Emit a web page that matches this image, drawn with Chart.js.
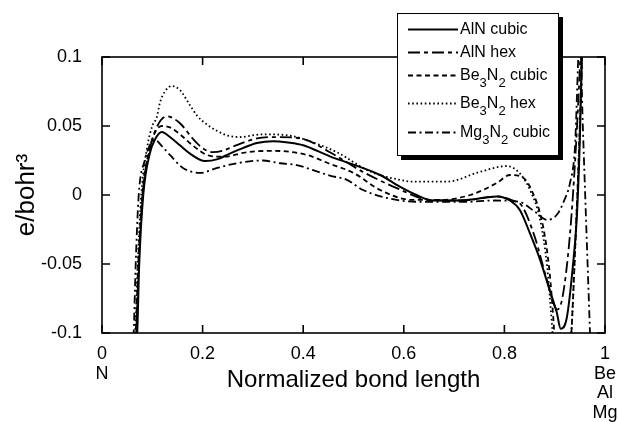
<!DOCTYPE html>
<html>
<head>
<meta charset="utf-8">
<script src="https://cdn.jsdelivr.net/npm/chart.js@4.4.1/dist/chart.umd.min.js"></script>
<style>
html,body{margin:0;padding:0;background:#fff;}
#wrap{position:relative;width:618px;height:422px;}
#legend{position:absolute;left:397px;top:13px;width:162px;height:143px;background:#fff;border:1.5px solid #000;box-shadow:4px 4px 0 #000;box-sizing:border-box;font-family:"Liberation Sans",Arial,Helvetica,sans-serif;font-size:16px;color:#000;}
#legend .row{position:absolute;left:0;height:20px;width:160px;}
#legend svg{position:absolute;left:10px;top:0;}
#legend .txt{position:absolute;left:62px;top:0;line-height:20px;white-space:nowrap;}
#legend .s{font-size:13px;position:relative;top:7px;}
</style>
</head>
<body>
<div id="wrap">
<canvas id="c" width="618" height="422"></canvas>
<div id="legend"></div>
</div>
<script>
// ---- data ----
const seriesNames = ["AlN cubic", "AlN hex", "Be3N2 cubic", "Be3N2 hex", "Mg3N2 cubic"];

const alnCubicX = [0.060,0.070,0.074,0.082,0.095,0.105,0.119,0.135,0.155,0.175,0.205,0.230,0.254,0.280,0.308,0.340,0.370,0.400,0.453,0.500,0.553,0.592,0.625,0.658,0.690,0.725,0.760,0.785,0.811,0.831,0.851,0.871,0.890,0.904,0.912,0.924,0.936,0.944,0.950,0.954,0.958];
const alnCubicY = [-0.140,-0.100,-0.050,0.000,0.030,0.040,0.0457,0.042,0.036,0.030,0.0246,0.026,0.030,0.034,0.0377,0.039,0.038,0.036,0.028,0.022,0.0145,0.006,0.000,-0.004,-0.004,-0.0036,-0.002,-0.001,-0.004,-0.011,-0.028,-0.047,-0.069,-0.085,-0.097,-0.089,-0.052,-0.016,0.040,0.100,0.140];

const alnHexX = [0.058,0.068,0.073,0.081,0.095,0.110,0.129,0.155,0.180,0.200,0.220,0.240,0.260,0.308,0.348,0.400,0.453,0.519,0.586,0.652,0.718,0.785,0.817,0.835,0.860,0.885,0.905,0.915,0.930,0.943,0.951,0.956];
const alnHexY = [-0.140,-0.100,-0.050,0.000,0.033,0.050,0.057,0.052,0.041,0.034,0.031,0.032,0.035,0.041,0.042,0.0406,0.031,0.0167,0.005,-0.0036,-0.004,-0.001,-0.004,-0.008,-0.030,-0.062,-0.083,-0.075,-0.030,0.040,0.100,0.140];

const be3n2CubicX = [0.058,0.067,0.072,0.080,0.095,0.105,0.119,0.135,0.155,0.180,0.209,0.240,0.288,0.340,0.408,0.450,0.500,0.553,0.618,0.672,0.732,0.785,0.811,0.835,0.851,0.877,0.890,0.897,0.905,0.925,0.945,0.956];
const be3n2CubicY = [-0.140,-0.100,-0.050,0.000,0.034,0.045,0.050,0.049,0.044,0.036,0.029,0.0277,0.031,0.032,0.029,0.023,0.016,0.0036,-0.0036,-0.0036,0.000,0.0087,0.0145,0.013,0.0058,-0.023,-0.0565,-0.088,-0.130,-0.130,0.000,0.120];

const be3n2HexX = [0.057,0.066,0.071,0.078,0.090,0.100,0.109,0.115,0.125,0.139,0.155,0.175,0.190,0.209,0.229,0.250,0.274,0.320,0.374,0.420,0.467,0.533,0.592,0.618,0.686,0.751,0.805,0.831,0.851,0.871,0.885,0.895,0.902,0.925,0.945,0.956];
const be3n2HexY = [-0.140,-0.100,-0.050,0.000,0.035,0.050,0.0565,0.0667,0.075,0.079,0.076,0.065,0.057,0.051,0.0464,0.043,0.042,0.044,0.043,0.038,0.031,0.017,0.011,0.0097,0.0097,0.0167,0.021,0.0155,0.0036,-0.018,-0.052,-0.096,-0.130,-0.130,0.000,0.120];

const mg3n2CubicX = [0.055,0.063,0.067,0.073,0.085,0.095,0.105,0.120,0.135,0.161,0.195,0.229,0.268,0.320,0.354,0.387,0.420,0.453,0.487,0.519,0.586,0.650,0.720,0.780,0.830,0.860,0.885,0.905,0.920,0.930,0.940,0.950,0.956,0.970,0.975];
const mg3n2CubicY = [-0.140,-0.100,-0.050,0.000,0.025,0.036,0.040,0.035,0.029,0.0196,0.016,0.0196,0.023,0.025,0.023,0.0217,0.018,0.014,0.011,0.0036,-0.0036,-0.005,-0.005,-0.004,-0.005,-0.012,-0.018,-0.014,-0.003,0.008,0.033,0.115,0.049,-0.098,-0.150];

const xTickValues = [0, 0.2, 0.4, 0.6, 0.8, 1];
const xTickLabels = [["0","N"], ["0.2"], ["0.4"], ["0.6"], ["0.8"], ["1","Be","Al","Mg"]];
const yTickValues = [-0.1, -0.05, 0, 0.05, 0.1];
const yTickLabels = ["-0.1", "-0.05", "0", "0.05", "0.1"];

const xTitle = "Normalized bond length";
const yTitle = "e/bohr\u00B3";

// ---- styles ----
const dashes = [[], [12,4,4,4], [5,3.5], [1.6,2.6], [8,3.5,2,3.5]];
const widths = [2, 1.8, 1.8, 1.8, 1.8];

function pts(xs, ys){ return xs.map((x,i)=>({x:x, y:ys[i]})); }
const seriesX = [alnCubicX, alnHexX, be3n2CubicX, be3n2HexX, mg3n2CubicX];
const seriesY = [alnCubicY, alnHexY, be3n2CubicY, be3n2HexY, mg3n2CubicY];

const datasets = seriesNames.map((name,i)=>({
  label: name,
  data: pts(seriesX[i], seriesY[i]),
  borderColor: '#000',
  backgroundColor: '#000',
  borderWidth: widths[i],
  borderDash: dashes[i],
  pointRadius: 0,
  fill: false,
  cubicInterpolationMode: 'monotone'
}));

const FONT = '"Liberation Sans", Arial, Helvetica, sans-serif';

function nearestIndex(arr, v){
  let best=0, bd=Infinity;
  arr.forEach((a,i)=>{const d=Math.abs(a-v); if(d<bd){bd=d;best=i;}});
  return bd<1e-6 ? best : -1;
}

const framePlugin = {
  id: 'frame',
  afterDatasetsDraw(chart){
    const {ctx, chartArea:{left,right,top,bottom}, scales:{x,y}} = chart;
    ctx.save();
    ctx.strokeStyle = '#000';
    ctx.lineWidth = 1.6;
    ctx.strokeRect(left, top, right-left, bottom-top);
    ctx.beginPath();
    const tl = 8;
    x.ticks.forEach(t=>{
      const px = x.getPixelForValue(t.value);
      ctx.moveTo(px, bottom); ctx.lineTo(px, bottom-tl);
      ctx.moveTo(px, top); ctx.lineTo(px, top+tl);
    });
    y.ticks.forEach(t=>{
      const py = y.getPixelForValue(t.value);
      ctx.moveTo(left, py); ctx.lineTo(left+tl, py);
      ctx.moveTo(right, py); ctx.lineTo(right-tl, py);
    });
    ctx.stroke();
    ctx.restore();
  }
};

new Chart(document.getElementById('c'), {
  type: 'line',
  data: { datasets: datasets },
  options: {
    responsive: false,
    animation: false,
    devicePixelRatio: 1,
    layout: { padding: { top: 57, right: 13, left: 0, bottom: 0 } },
    plugins: { legend: { display: false }, tooltip: { enabled: false } },
    scales: {
      x: {
        type: 'linear', min: 0, max: 1,
        afterFit(s){ s.height = 89; s.paddingLeft = 0; s.paddingRight = 0; },
        afterBuildTicks(s){ s.ticks = xTickValues.map(v=>({value:v})); },
        grid: { display: false, drawTicks: false },
        border: { display: false },
        ticks: {
          autoSkip: false, maxRotation: 0, padding: 11, color: '#000',
          font: { family: FONT, size: 18, lineHeight: 1.1 },
          callback(v){ const i = nearestIndex(xTickValues, v); return i>=0 ? xTickLabels[i] : ''; }
        },
        title: { display: true, text: xTitle, color: '#000', font: { family: FONT, size: 24, lineHeight: 1.2 }, padding: { top: 0, bottom: 27.6 } }
      },
      y: {
        type: 'linear', min: -0.1, max: 0.1,
        afterFit(s){ s.width = 102; s.paddingTop = 0; s.paddingBottom = 0; },
        afterBuildTicks(s){ s.ticks = yTickValues.map(v=>({value:v})); },
        grid: { display: false, drawTicks: false },
        border: { display: false },
        ticks: {
          padding: 20, color: '#000',
          font: { family: FONT, size: 18 },
          callback(v){ const i = nearestIndex(yTickValues, v); return i>=0 ? yTickLabels[i] : ''; }
        },
        title: { display: true, text: yTitle, color: '#000', font: { family: FONT, size: 26, lineHeight: 1.2 }, padding: { top: 11.4, bottom: 0 } }
      }
    }
  },
  plugins: [framePlugin]
});

// ---- legend (HTML overlay, built from the dataset labels and styles) ----
const legendTops = [5, 28, 51, 79, 108];
const leg = document.getElementById('legend');
seriesNames.forEach((name,i)=>{
  const row = document.createElement('div');
  row.className = 'row';
  row.style.top = legendTops[i] + 'px';
  const dash = dashes[i].length ? ` stroke-dasharray="${dashes[i].join(' ')}"` : '';
  row.innerHTML = `<svg width="50" height="20"><line x1="0" y1="10.5" x2="50" y2="10.5" stroke="#000" stroke-width="${widths[i]}"${dash}/></svg>` +
    `<span class="txt">${name.replace(/([A-Za-z])(\d)/g, '$1<span class="s">$2</span>')}</span>`;
  leg.appendChild(row);
});
</script>
</body>
</html>
